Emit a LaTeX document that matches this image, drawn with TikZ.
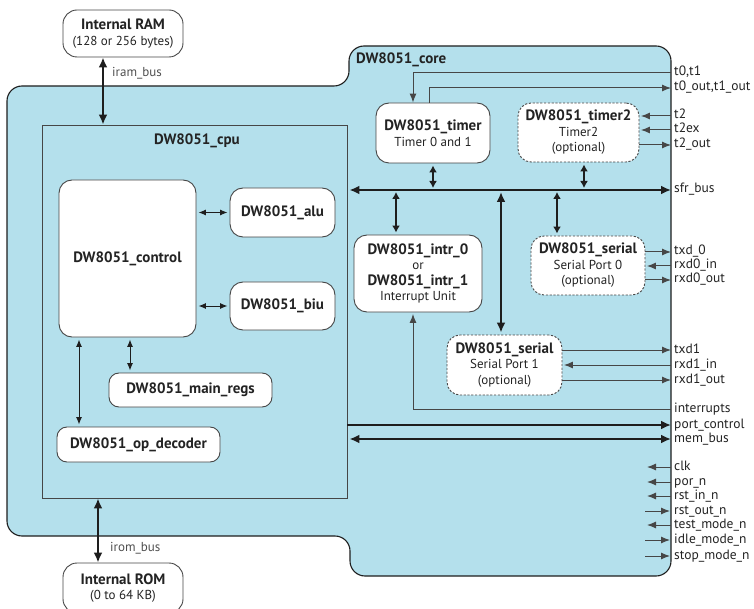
\documentclass[tikz,border=0pt]{standalone}
\usepackage{fontspec}
\setmainfont{PT Sans}
\usetikzlibrary{arrows.meta,calc}
\definecolor{coreblue}{RGB}{180,224,236}
\definecolor{linec}{RGB}{70,70,70}
\definecolor{busc}{RGB}{30,30,30}
\definecolor{txtc}{RGB}{35,35,35}
\newcommand\bxt[1]{{\fontsize{15}{15.5}\selectfont\bfseries #1}}
\tikzset{
  box/.style={draw=linec, fill=white, line width=0.9pt, rounded corners=13pt, inner sep=0pt, align=center, text=txtc, font=\fontsize{13}{15.5}\selectfont},
  optbox/.style={box, dash pattern=on 2.2pt off 1.6pt},
  sigl/.style={anchor=west, inner xsep=3pt, inner ysep=0pt, text=txtc, font=\fontsize{13.5}{14}\selectfont, text height=8pt, text depth=2pt},
  sig/.style={draw=linec, line width=1pt, -{Latex[length=9pt,width=7pt]}},
  sigb/.style={draw=busc, line width=1pt, {Latex[length=7.5pt,width=6pt]}-{Latex[length=7.5pt,width=6pt]}, shorten <=2pt, shorten >=2pt},
  busd/.style={draw=busc, line width=2.6pt, {Latex[length=10pt,width=9pt]}-{Latex[length=10pt,width=9pt]}},
  buss/.style={draw=busc, line width=2.6pt, -{Latex[length=10pt,width=9pt]}},
  mbus/.style={draw=busc, line width=2pt, {Latex[length=7pt,width=8pt]}-{Latex[length=7pt,width=8pt]}, shorten <=2pt, shorten >=2pt},
  title/.style={font=\fontsize{15}{15}\selectfont\bfseries, text=txtc, inner sep=0pt},
  buslbl/.style={anchor=west, font=\fontsize{13}{14}\selectfont, text=txtc!80, inner sep=0pt}
}
\begin{document}
\begin{tikzpicture}[x=1pt,y=-1pt]
\useasboundingbox (0,0) rectangle (754,609);
% core outline
\draw[draw=busc, line width=1.1pt, fill=coreblue, rounded corners=15pt]
  (7,300) -- (7,86) -- (349,86) -- (349,46) -- (671,46) -- (671,576) -- (350,576) -- (350,536) -- (7,536) -- cycle;
\node[title, anchor=west] (corelbl) at (356,60) {DW8051\_core};
% cpu
\node[draw=linec, line width=0.9pt, minimum width=305pt, minimum height=373pt, inner sep=0pt] (cpu) at (194.5,311.5) {};
\node[title] (cpulbl) at (197,141) {DW8051\_cpu};
\node[box, minimum width=137pt, minimum height=157pt] (control) at (127.5,258.5) {\bxt{DW8051\_control}};
\node[box, minimum width=105pt, minimum height=49pt] (alu) at (282.5,212.5) {\bxt{DW8051\_alu}};
\node[box, minimum width=105pt, minimum height=48pt] (biu) at (282.5,306) {\bxt{DW8051\_biu}};
\node[box, rounded corners=10pt, minimum width=163pt, minimum height=34pt] (regs) at (190.5,390) {\bxt{DW8051\_main\_regs}};
\node[box, rounded corners=10pt, minimum width=163pt, minimum height=35pt] (opdec) at (138.5,444.5) {\bxt{DW8051\_op\_decoder}};
% memories
\node[box, rounded corners=14pt, minimum width=120pt, minimum height=47pt] (ram) at (123,33.5) {\bxt{Internal RAM}\\[1pt](128 or 256 bytes)};
\node[box, rounded corners=14pt, minimum width=120pt, minimum height=50pt] (rom) at (123,588) {\bxt{Internal ROM}\\(0 to 64 KB)};
% core blocks
\node[box, minimum width=114pt, minimum height=60pt] (timer) at (433,133) {\bxt{DW8051\_timer}\\Timer 0 and 1};
\node[optbox, minimum width=121pt, minimum height=59pt] (timer2) at (578.5,132.5) {\bxt{DW8051\_timer2}\\Timer2\\(optional)};
\node[box, minimum width=128pt, minimum height=77pt] (intr) at (418,273.5) {\bxt{DW8051\_intr\_0}\\or\\\bxt{DW8051\_intr\_1}\\Interrupt Unit};
\node[optbox, minimum width=114pt, minimum height=59pt] (ser0) at (588,265.5) {\bxt{DW8051\_serial}\\Serial Port 0\\(optional)};
\node[optbox, minimum width=115pt, minimum height=60pt] (ser1) at (504.5,365) {\bxt{DW8051\_serial}\\Serial Port 1\\(optional)};
% right labels
\node[sigl] (lT0) at (671,73) {t0,t1};
\node[sigl] (lT0o) at (671,88) {t0\_out,t1\_out};
\node[sigl] (lT2) at (671,116) {t2};
\node[sigl] (lT2ex) at (671,130) {t2ex};
\node[sigl] (lT2o) at (671,145) {t2\_out};
\node[sigl] (lSfr) at (671,190) {sfr\_bus};
\node[sigl] (lTx0) at (671,252) {txd\_0};
\node[sigl] (lRx0i) at (671,266) {rxd0\_in};
\node[sigl] (lRx0o) at (671,280) {rxd0\_out};
\node[sigl] (lTx1) at (671,350) {txd1};
\node[sigl] (lRx1i) at (671,365) {rxd1\_in};
\node[sigl] (lRx1o) at (671,380) {rxd1\_out};
\node[sigl] (lInt) at (671,409) {interrupts};
\node[sigl] (lPc) at (671,425) {port\_control};
\node[sigl] (lMem) at (671,439) {mem\_bus};
\node[sigl] (lClk) at (671,467) {clk};
\node[sigl] (lPor) at (671,482) {por\_n};
\node[sigl] (lRin) at (671,496) {rst\_in\_n};
\node[sigl] (lRout) at (671,511) {rst\_out\_n};
\node[sigl] (lTest) at (671,525) {test\_mode\_n};
\node[sigl] (lIdle) at (671,540) {idle\_mode\_n};
\node[sigl] (lStop) at (671,556) {stop\_mode\_n};
% memory buses
\coordinate (iramx) at (103,0);
\coordinate (iromx) at (98,0);
\draw[busd] (ram.south -| iramx) -- (cpu.north -| iramx);
\node[buslbl] (iraml) at (112,73) {iram\_bus};
\draw[busd] (cpu.south -| iromx) -- (rom.north -| iromx);
\node[buslbl] (iroml) at (110,548) {irom\_bus};
% cpu internal
\coordinate (c130) at (130,0);
\coordinate (c79) at (79,0);
\draw[sigb] (control.east |- alu.west) -- (alu.west);
\draw[sigb] (control.east |- biu.west) -- (biu.west);
\draw[sigb] (control.south -| c130) -- (regs.north -| c130);
\draw[sigb] (control.south -| c79) -- (opdec.north -| c79);
% timer signals
\draw[sig] (lT0.west) -| ([xshift=-20pt]timer.north);
\draw[sig] ([xshift=-4pt]timer.north) |- (lT0o.west);
\draw[sig, shorten >=1.5pt] (lT2.west) -- (timer2.east |- lT2.west);
\draw[sig, shorten >=1.5pt] (lT2ex.west) -- (timer2.east |- lT2ex.west);
\draw[sig] (timer2.east |- lT2o.west) -- (lT2o.west);
% sfr bus
\draw[busd] ([xshift=2pt]cpu.east |- lSfr.west) -- (lSfr.west);
\draw[mbus] (timer.south) -- (timer.south |- lSfr.west);
\draw[mbus] ([xshift=5.5pt]timer2.south) -- ([xshift=5.5pt]timer2.south |- lSfr.west);
\draw[mbus] ([xshift=-22pt]intr.north |- lSfr.west) -- ([xshift=-22pt]intr.north);
\draw[mbus] ([xshift=-31pt]ser0.north |- lSfr.west) -- ([xshift=-31pt]ser0.north);
\draw[busd, shorten <=2pt, shorten >=2pt] ([xshift=-3.5pt]ser1.north |- lSfr.west) -- ([xshift=-3.5pt]ser1.north);
% serial signals
\draw[sig] (ser0.east |- lTx0.west) -- (lTx0.west);
\draw[sig, shorten >=1.5pt] (lRx0i.west) -- (ser0.east |- lRx0i.west);
\draw[sig] (ser0.east |- lRx0o.west) -- (lRx0o.west);
\draw[sig] (ser1.east |- lTx1.west) -- (lTx1.west);
\draw[sig, shorten >=1.5pt] (lRx1i.west) -- (ser1.east |- lRx1i.west);
\draw[sig] (ser1.east |- lRx1o.west) -- (lRx1o.west);
% interrupts
\draw[sig, shorten >=1.5pt] (lInt.west) -| ([xshift=-5pt]intr.south);
% port control and mem bus
\draw[buss] (cpu.east |- lPc.west) -- (lPc.west);
\draw[busd] ([xshift=2pt]cpu.east |- lMem.west) -- (lMem.west);
% misc
\draw[sig] (lClk.west) -- ([xshift=-24pt]lClk.west);
\draw[sig] (lPor.west) -- ([xshift=-24pt]lPor.west);
\draw[sig] (lRin.west) -- ([xshift=-24pt]lRin.west);
\draw[sig] ([xshift=-26pt]lRout.west) -- ([xshift=-1pt]lRout.west);
\draw[sig] (lTest.west) -- ([xshift=-24pt]lTest.west);
\draw[sig] ([xshift=-26pt]lIdle.west) -- ([xshift=-1pt]lIdle.west);
\draw[sig] ([xshift=-26pt]lStop.west) -- ([xshift=-1pt]lStop.west);
\end{tikzpicture}
\end{document}
